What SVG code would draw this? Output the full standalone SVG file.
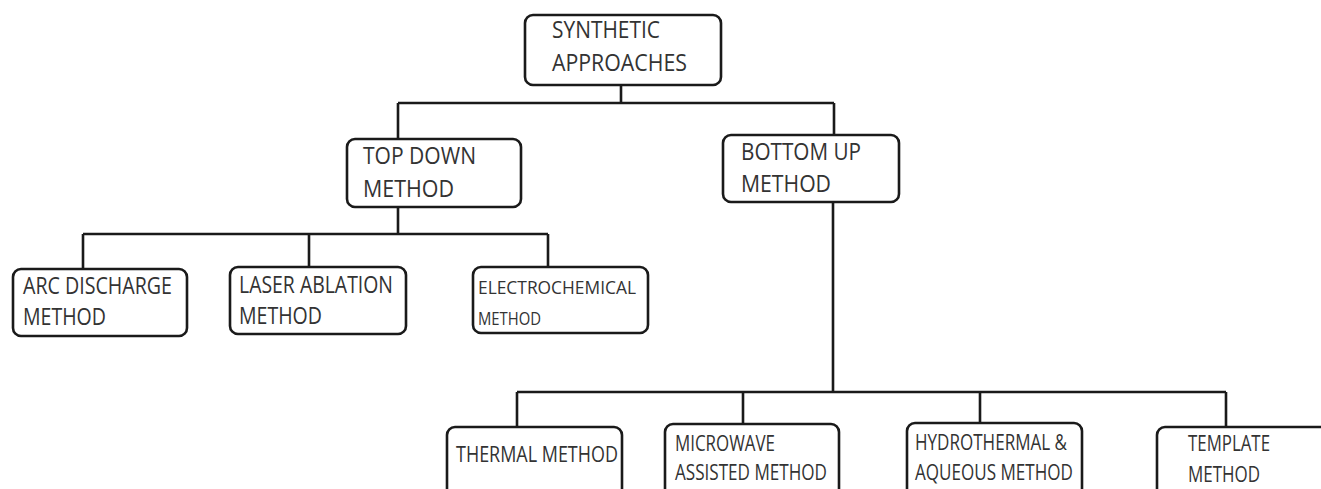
<svg xmlns="http://www.w3.org/2000/svg" width="1321" height="489" viewBox="0 0 1321 489">
<style>
.box{fill:#fff;stroke:#1a1a1a;stroke-width:2.6}
.ln{fill:none;stroke:#1a1a1a;stroke-width:2.6}
text{font-family:"Open Sans","Liberation Sans",sans-serif;font-size:23px;fill:#333}
.sm{font-size:19px}
.md{font-size:21px}
</style>
<rect width="1321" height="489" fill="#fff"/>
<g id="connectors">
<path class="ln" d="M621 85V103M398 103H834M398 103V139M834 103V135"/>
<path class="ln" d="M398 207V234M83 234H548M83 234V269M309 234V267M548 234V267"/>
<path class="ln" d="M833 202V392M517 392H1226M517 392V427M743 392V424M980 392V423M1226 392V427"/>
</g>
<g id="synthetic">
<rect class="box" x="525" y="15" width="196" height="70" rx="8"/>
<text x="552" y="38" textLength="108" lengthAdjust="spacingAndGlyphs">SYNTHETIC</text>
<text x="552" y="71" textLength="135" lengthAdjust="spacingAndGlyphs">APPROACHES</text>
</g>
<g id="topdown">
<rect class="box" x="347" y="139" width="174" height="68" rx="8"/>
<text x="363" y="164" textLength="113" lengthAdjust="spacingAndGlyphs">TOP DOWN</text>
<text x="363" y="197" textLength="91" lengthAdjust="spacingAndGlyphs">METHOD</text>
</g>
<g id="bottomup">
<rect class="box" x="723" y="135" width="176" height="67" rx="8"/>
<text x="741" y="160" textLength="120" lengthAdjust="spacingAndGlyphs">BOTTOM UP</text>
<text x="741" y="192" textLength="90" lengthAdjust="spacingAndGlyphs">METHOD</text>
</g>
<g id="arc">
<rect class="box" x="13" y="269" width="174" height="67" rx="8"/>
<text x="23" y="294" textLength="149" lengthAdjust="spacingAndGlyphs">ARC DISCHARGE</text>
<text x="23" y="325" textLength="83" lengthAdjust="spacingAndGlyphs">METHOD</text>
</g>
<g id="laser">
<rect class="box" x="230" y="267" width="176" height="67" rx="8"/>
<text x="239" y="293" textLength="154" lengthAdjust="spacingAndGlyphs">LASER ABLATION</text>
<text x="239" y="324" textLength="83" lengthAdjust="spacingAndGlyphs">METHOD</text>
</g>
<g id="electro">
<rect class="box" x="473" y="267" width="175" height="66" rx="8"/>
<text class="sm" x="478" y="294" textLength="158" lengthAdjust="spacingAndGlyphs">ELECTROCHEMICAL</text>
<text class="sm" x="478" y="325" textLength="63" lengthAdjust="spacingAndGlyphs">METHOD</text>
</g>
<g id="thermal">
<rect class="box" x="447" y="427" width="175" height="80" rx="8"/>
<text class="md" x="456" y="462" textLength="162" lengthAdjust="spacingAndGlyphs">THERMAL METHOD</text>
</g>
<g id="microwave">
<rect class="box" x="665" y="424" width="174" height="80" rx="8"/>
<text class="md" x="675" y="451" textLength="100" lengthAdjust="spacingAndGlyphs">MICROWAVE</text>
<text class="md" x="675" y="480" textLength="152" lengthAdjust="spacingAndGlyphs">ASSISTED METHOD</text>
</g>
<g id="hydrothermal">
<rect class="box" x="907" y="423" width="175" height="80" rx="8"/>
<text class="md" x="915" y="450" textLength="152" lengthAdjust="spacingAndGlyphs">HYDROTHERMAL &amp;</text>
<text class="md" x="915" y="480" textLength="158" lengthAdjust="spacingAndGlyphs">AQUEOUS METHOD</text>
</g>
<g id="template">
<rect class="box" x="1157" y="427" width="190" height="80" rx="8"/>
<text class="md" x="1188" y="451" textLength="82" lengthAdjust="spacingAndGlyphs">TEMPLATE</text>
<text class="md" x="1188" y="482" textLength="72" lengthAdjust="spacingAndGlyphs">METHOD</text>
</g>
</svg>
